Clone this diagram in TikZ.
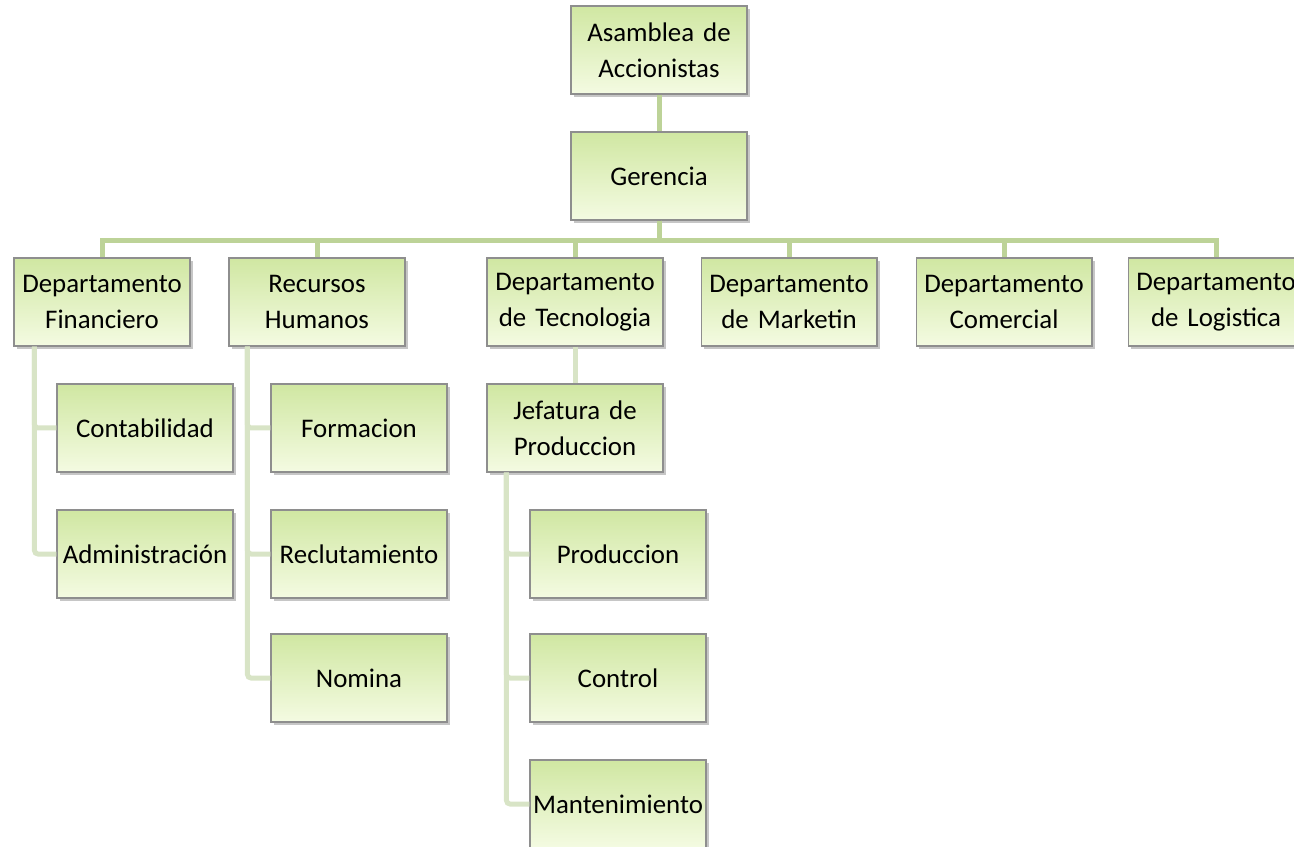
\documentclass[tikz,border=0pt]{standalone}
\usepackage{fontspec}
\setmainfont{Carlito}[WordSpace=0.85]
\usetikzlibrary{shadows}
\definecolor{boxtop}{HTML}{D0E7A2}
\definecolor{boxbot}{HTML}{F4FBE2}
\definecolor{boxline}{HTML}{8E8E8E}
\definecolor{mainlink}{HTML}{BDD398}
\definecolor{sublink}{HTML}{D8E4C6}
\tikzset{
  orgbox/.style={draw=boxline, line width=0.6pt, top color=boxtop, bottom color=boxbot,
    minimum width=3.52cm, minimum height=1.76cm, text width=3.46cm, inner sep=0.5pt,
    align=center, font=\fontsize{15.3}{20.5}\selectfont,
    drop shadow={shadow xshift=1.5pt, shadow yshift=-1.5pt, opacity=0.45}},
  toplink/.style={draw=mainlink, line width=0.1cm},
  sidelink/.style={draw=sublink, line width=0.1cm, rounded corners=2pt}
}
\begin{document}
\begin{tikzpicture}[x=0.02cm, y=-0.02cm]
\useasboundingbox (0,0) rectangle (1294,847);
% nodes
\node[orgbox] (asam)     at (659, 50) {Asamblea de\\Accionistas};
\node[orgbox] (ger)      at (659,176) {Gerencia};
    \node[orgbox] (fin)  at (102,302) {Departamento\\Financiero};
        \node[orgbox] (cont) at (145,428) {Contabilidad};
        \node[orgbox] (adm)  at (145,554) {Administración};
    \node[orgbox] (rrhh) at (317,302) {Recursos\\Humanos};
        \node[orgbox] (form) at (359,428) {Formacion};
        \node[orgbox] (recl) at (359,554) {Reclutamiento};
        \node[orgbox] (nom)  at (359,678) {Nomina};
    \node[orgbox] (tec)  at (575,302) {Departamento\\de Tecnologia};
        \node[orgbox] (jef)  at (575,428) {Jefatura de\\Produccion};
            \node[orgbox] (prod) at (618,554) {Produccion};
            \node[orgbox] (ctrl) at (618,678) {Control};
            \node[orgbox] (mant) at (618,804) {Mantenimiento};
    \node[orgbox] (mkt)  at (789,302) {Departamento\\de Marketin};
    \node[orgbox] (com)  at (1004,302) {Departamento\\Comercial};
    \node[orgbox] (log)  at (1216,302) {Departamento\\de Logistica};
% links
\draw[toplink] (asam) -- (ger);
\foreach \dep in {fin, rrhh, tec, mkt, com, log}
    \draw[toplink] (ger.south) -- ++(0,20) -| (\dep.north);
\draw[sidelink] (tec) -- (jef);

\draw[sidelink] (fin.south west) ++(21,0) |- (cont.west);
\draw[sidelink] (fin.south west) ++(21,0) |- (adm.west);

\foreach \sub in {form, recl, nom}
    \draw[sidelink] (rrhh.south west) ++(19,0) |- (\sub.west);

\foreach \sub in {prod, ctrl, mant}
    \draw[sidelink] (jef.south west) ++(20,0) |- (\sub.west);
\end{tikzpicture}
\end{document}
